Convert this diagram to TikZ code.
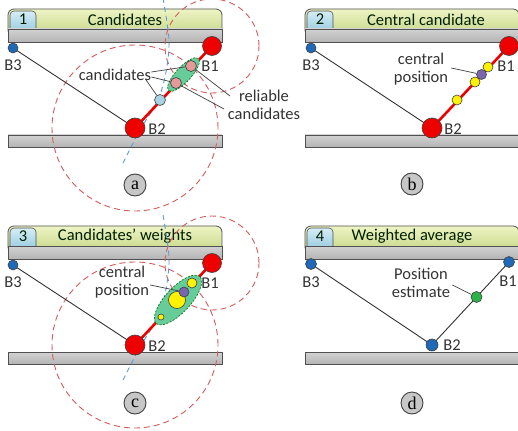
\documentclass[tikz,border=0pt]{standalone}
\usepackage{fontspec}
\setmainfont{Carlito}
\newfontfamily\serifx{Liberation Serif}
\usetikzlibrary{shapes.geometric}
\definecolor{hdrtop}{HTML}{EEF4C4}
\definecolor{hdrbot}{HTML}{C4D585}
\definecolor{tabtop}{HTML}{D6EDF6}
\definecolor{tabbot}{HTML}{8CC4DA}
\definecolor{hdrline}{HTML}{505050}
\definecolor{bartop}{HTML}{D2D2D2}
\definecolor{barbot}{HTML}{B4B4B4}
\definecolor{reddash}{HTML}{D25C5C}
\definecolor{bluedash}{HTML}{5B9BD5}
\definecolor{ptred}{HTML}{EE0000}
\definecolor{ptblue}{HTML}{1E6AB8}
\definecolor{ptpink}{HTML}{E39A98}
\definecolor{ptlblue}{HTML}{A9D2E3}
\definecolor{ptpurple}{HTML}{7A66AD}
\definecolor{ptgreen}{HTML}{2BB34A}
\definecolor{ellfill}{HTML}{66CC99}
\definecolor{txt}{HTML}{333333}
\tikzset{
  txtstyle/.style={font=\fontsize{16.5}{18}\selectfont, text=txt, inner sep=0pt, align=center},
  titlestyle/.style={font=\fontsize{16.5}{18}\selectfont, text=black!80!green!60!black, inner sep=0pt},
  pt/.style={circle, draw=black!75, line width=0.6pt, inner sep=0pt, minimum size=#1},
  redpt/.style={pt=#1, fill=ptred},
  bluept/.style={pt=#1, fill=ptblue},
  pinkpt/.style={pt=#1, fill=ptpink},
  lbluept/.style={pt=#1, fill=ptlblue},
  yelpt/.style={pt=#1, fill=yellow},
  purpt/.style={pt=#1, fill=ptpurple},
  grnpt/.style={pt=#1, fill=ptgreen},
  thinline/.style={draw=black!80, line width=0.9pt},
  redline/.style={draw=ptred, line width=2.6pt},
  pointer/.style={draw=black!75, line width=0.7pt},
  rdash/.style={draw=reddash, line width=0.9pt, dash pattern=on 6pt off 4pt},
  bdash/.style={draw=bluedash, line width=0.9pt, dash pattern=on 5pt off 4pt},
  ell/.style={ellipse, fill=ellfill, draw=black!60!green, line width=0.6pt, dash pattern=on 2pt off 1.5pt, rotate=47, inner sep=0pt},
  lbl/.style={circle, fill=black!22, draw=black!75, line width=0.9pt, minimum size=22pt, inner sep=0pt, font=\serifx\fontsize{18}{18}\selectfont}
}
\newcommand\panelframe[4]{%
  \shadedraw[top color=hdrtop,bottom color=hdrbot,draw=hdrline,line width=0.8pt,rounded corners=6pt] (8,9) rectangle (222,36);
  \shadedraw[top color=tabtop,bottom color=tabbot,draw=hdrline,line width=0.6pt,rounded corners=4pt] (10,11) rectangle (36,36);
  \node[titlestyle] (tab#4) at (23,19.5) {#1};
  \node[titlestyle] (title#4) at (#3,19.5) {#2};
  \shadedraw[top color=bartop,bottom color=barbot,draw=hdrline,line width=0.8pt] (8,29) rectangle (222,42);
  \shadedraw[top color=bartop,bottom color=barbot,draw=hdrline,line width=0.8pt] (8,135) rectangle (222,147);
}
\begin{document}
\begin{tikzpicture}[x=1pt,y=-1pt]
\useasboundingbox (0,0) rectangle (518,430);
\fill[white] (0,0) rectangle (518,430);

% ---------------- panel a ----------------
\begin{scope}
\panelframe{1}{Candidates}{125}{a}
\draw[rdash] (135,128) circle (83pt);
\draw[rdash] (212,46) circle (47pt);
\draw[bdash] plot[smooth] coordinates {(163,-2) (169,40) (166,72) (158,100) (140,130) (122,165)};
\coordinate (aP3) at (13,48);
\coordinate (aP1) at (212,46);
\coordinate (aP2) at (135,128);
\draw[thinline] (aP3) -- (aP2);
\draw[redline] (aP2) -- (aP1);
\node[ell, minimum width=44pt, minimum height=15pt] (aell) at (183.5,74.5) {};
\node[bluept=10pt] (aB3) at (aP3) {};
\node[redpt=19pt] (aB1) at (aP1) {};
\node[redpt=20pt] (aB2) at (aP2) {};
\node[pinkpt=11pt] (ac1) at (191,66) {};
\node[pinkpt=11pt] (ac2) at (176,83) {};
\node[lbluept=11pt] (ac3) at (160,100) {};
\node[txtstyle] (aL3) at (13,65) {B3};
\node[txtstyle] (aL1) at (210,66) {B1};
\node[txtstyle] (aL2) at (157,129) {B2};
\node[txtstyle] (acand) at (115,75) {candidates};
\node[txtstyle] (arel) at (264,105) {reliable\\candidates};
\coordinate (ar1) at (230,96);
\coordinate (ar2) at (224,109);
\draw[pointer] ([yshift=3pt]acand.east) -- (ac1);
\draw[pointer] ([yshift=-2pt]acand.east) -- (ac2);
\draw[pointer] ([xshift=-6pt,yshift=-4pt]acand.east) -- (ac3);
\draw[pointer] (ac1) -- (ar1);
\draw[pointer] (ac2) -- (ar2);
\node[lbl] (la) at (135,185) {a};
\end{scope}

% ---------------- panel b ----------------
\begin{scope}[shift={(297,0)}]
\panelframe{2}{Central candidate}{129}{b}
\coordinate (bP3) at (14,48);
\coordinate (bP1) at (212,46);
\coordinate (bP2) at (135,128);
\draw[thinline] (bP3) -- (bP2);
\draw[redline] (bP2) -- (bP1);
\node[bluept=10pt] (bB3) at (bP3) {};
\node[redpt=19pt] (bB1) at (bP1) {};
\node[redpt=20pt] (bB2) at (bP2) {};
\node[yelpt=10pt] (by1) at (191,67) {};
\node[yelpt=10pt] (by2) at (178,82) {};
\node[yelpt=10pt] (by3) at (160,100) {};
\node[purpt=10pt] (bcp) at (184.5,74.5) {};
\node[txtstyle] (bL3) at (14,65) {B3};
\node[txtstyle] (bL1) at (209,66) {B1};
\node[txtstyle] (bL2) at (156,129) {B2};
\node[txtstyle] (bcen) at (124,69) {central\\position};
\draw[pointer] ([xshift=3pt,yshift=1pt]bcen.east) -- (bcp);
\node[lbl] (lb) at (115,184) {b};
\end{scope}

% ---------------- panel c ----------------
\begin{scope}[shift={(0,217)}]
\panelframe{3}{Candidates' weights}{125}{c}
\draw[rdash] (135,128) circle (83pt);
\draw[rdash] (212,46) circle (47pt);
\draw[bdash] plot[smooth] coordinates {(163,-2) (169,40) (166,72) (158,100) (140,130) (122,165)};
\coordinate (cP3) at (13,48);
\coordinate (cP1) at (212,46);
\coordinate (cP2) at (135,128);
\draw[thinline] (cP3) -- (cP2);
\draw[redline] (cP2) -- (cP1);
\node[ell, minimum width=64pt, minimum height=25pt] (cell) at (178,83) {};
\node[bluept=10pt] (cB3) at (cP3) {};
\node[redpt=19pt] (cB1) at (cP1) {};
\node[redpt=20pt] (cB2) at (cP2) {};
\node[yelpt=10pt] (cy1) at (192,66) {};
\node[yelpt=17pt] (cy2) at (177,83) {};
\node[yelpt=6pt] (cy3) at (161,100) {};
\node[purpt=10pt] (ccp) at (184,75) {};
\node[txtstyle] (cL3) at (13,65) {B3};
\node[txtstyle] (cL1) at (210,66) {B1};
\node[txtstyle] (cL2) at (157,129) {B2};
\node[txtstyle] (ccen) at (122,65) {central\\position};
\draw[pointer] ([xshift=1pt,yshift=-3pt]ccen.east) -- (ccp);
\node[lbl] (lc) at (135,186) {c};
\end{scope}

% ---------------- panel d ----------------
\begin{scope}[shift={(297,217)}]
\panelframe{4}{Weighted average}{115}{d}
\coordinate (dP3) at (14,47);
\coordinate (dP1) at (212,45);
\coordinate (dP2) at (135,128);
\draw[thinline] (dP3) -- (dP2);
\draw[thinline] (dP2) -- (dP1);
\node[bluept=11pt] (dB3) at (dP3) {};
\node[bluept=11pt] (dB1) at (dP1) {};
\node[bluept=12pt] (dB2) at (dP2) {};
\node[grnpt=11pt] (dpe) at (179.5,80) {};
\node[txtstyle] (dL3) at (14,65) {B3};
\node[txtstyle] (dL1) at (211,64) {B1};
\node[txtstyle] (dL2) at (155,128) {B2};
\node[txtstyle] (dpos) at (124,66) {Position\\estimate};
\draw[pointer] ([xshift=2pt,yshift=-2pt]dpos.east) -- (dpe);
\node[lbl] (ld) at (115,186) {d};
\end{scope}
\end{tikzpicture}
\end{document}
